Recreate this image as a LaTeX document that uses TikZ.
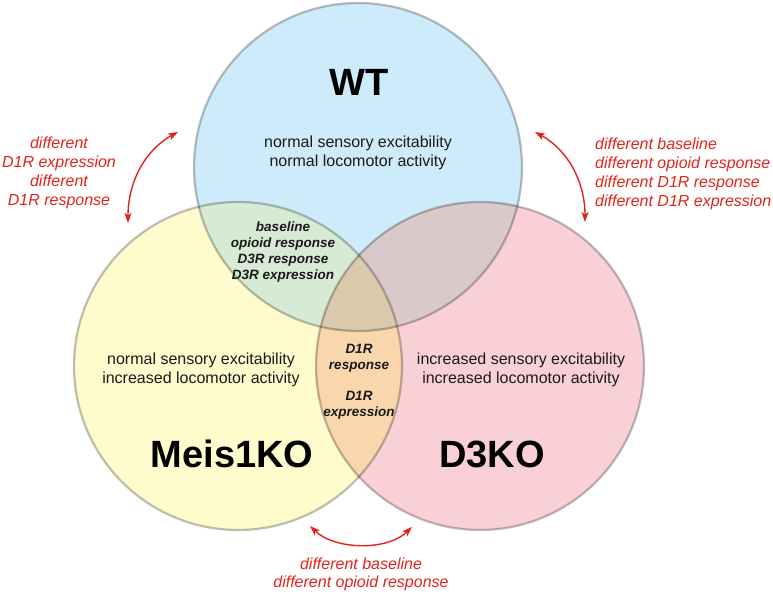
\documentclass[tikz,border=0pt]{standalone}
\usepackage{fontspec}
\setmainfont{Liberation Sans}
\usetikzlibrary{arrows.meta}
\definecolor{wtblue}{HTML}{CDEBFA}
\definecolor{myellow}{HTML}{FEFBCC}
\definecolor{dpink}{HTML}{F9D0D5}
\definecolor{wmgreen}{HTML}{D7EAD4}
\definecolor{wdmauve}{HTML}{D9C9CB}
\definecolor{mdorange}{HTML}{F9D6AB}
\definecolor{allcol}{HTML}{DBC9AC}
\definecolor{annred}{HTML}{E2231A}
\definecolor{txt}{HTML}{1A1A1A}
\tikzset{
  bord/.style={draw=black, draw opacity=0.25, line width=2.2pt},
  biglabel/.style={font=\bfseries\fontsize{38}{40}\selectfont, text=black, anchor=base, inner sep=0pt},
  desc/.style={font=\fontsize{16}{19}\selectfont, text=txt, align=center, inner sep=0pt},
  overlap/.style={font=\bfseries\itshape\fontsize{13.5}{16}\selectfont, text=txt, align=center, inner sep=0pt},
  ann/.style={font=\itshape\fontsize{16}{19}\selectfont, text=annred, inner sep=0pt},
  redarrow/.style={draw=annred, line width=1.4pt, {Stealth[length=10pt,width=7pt,inset=2.5pt]}-{Stealth[length=10pt,width=7pt,inset=2.5pt]}}
}
\begin{document}
\begin{tikzpicture}[x=1pt,y=-1pt]
\useasboundingbox (0,0) rectangle (773,597);
\coordinate (cW) at (358,167);
\coordinate (cM) at (238,366);
\coordinate (cD) at (480,366);
% base fills
\fill[wtblue] (cW) circle[radius=164pt];
\fill[myellow] (cM) circle[radius=164pt];
\fill[dpink] (cD) circle[radius=164pt];
% Meis1KO & D3KO overlap
\begin{scope}
  \clip (cM) circle[radius=164pt];
  \fill[mdorange] (cD) circle[radius=164pt];
\end{scope}
% overlaps with WT
\begin{scope}
  \clip (cW) circle[radius=164pt];
  \fill[wmgreen] (cM) circle[radius=164pt];
  \fill[wdmauve] (cD) circle[radius=164pt];
  \clip (cM) circle[radius=164pt];
  \fill[allcol] (cD) circle[radius=164pt];
\end{scope}
% borders
\draw[bord] (cW) circle[radius=164pt];
\draw[bord] (cM) circle[radius=164pt];
\draw[bord] (cD) circle[radius=164pt];
% big labels
\node[biglabel] (lWT) at (359,95) {WT};
\node[biglabel] (lM) at (232,467) {Meis1KO};
\node[biglabel] (lD) at (492,467) {D3KO};
% descriptions
\node[desc] (dWT) at (358,152.5) {normal sensory excitability\\normal locomotor activity};
\node[desc] (dM) at (201,369.5) {normal sensory excitability\\increased locomotor activity};
\node[desc] (dD) at (521,369.5) {increased sensory excitability\\increased locomotor activity};
% overlap texts
\node[overlap] (oWM) at (283,252) {baseline\\opioid response\\D3R response\\D3R expression};
\node[overlap] (oMD1) at (359,358.5) {D1R\\response};
\node[overlap] (oMD2) at (359,405.5) {D1R\\expression};
% annotations
\node[ann, align=center] (aL) at (59,172.5) {different\\D1R expression\\different\\D1R response};
\node[ann, align=left, anchor=west] (aR) at (595,173.5) {different baseline\\different opioid response\\different D1R response\\different D1R expression};
\node[ann, align=center, font=\itshape\fontsize{16}{18}\selectfont] (aB) at (361,574.5) {different baseline\\different opioid response};
% arrows
\coordinate (la1) at (178,132);
\coordinate (la2) at (128,223);
\coordinate (ra1) at (535,132);
\coordinate (ra2) at (585,222);
\coordinate (ba1) at (310,526);
\coordinate (ba2) at (412,527);
\draw[redarrow] (la1) .. controls (145,150) and (128,182) .. (la2);
\draw[redarrow] (ra1) .. controls (568,150) and (585,182) .. (ra2);
\draw[redarrow] (ba1) .. controls (335,550) and (387,551) .. (ba2);
\end{tikzpicture}
\end{document}
